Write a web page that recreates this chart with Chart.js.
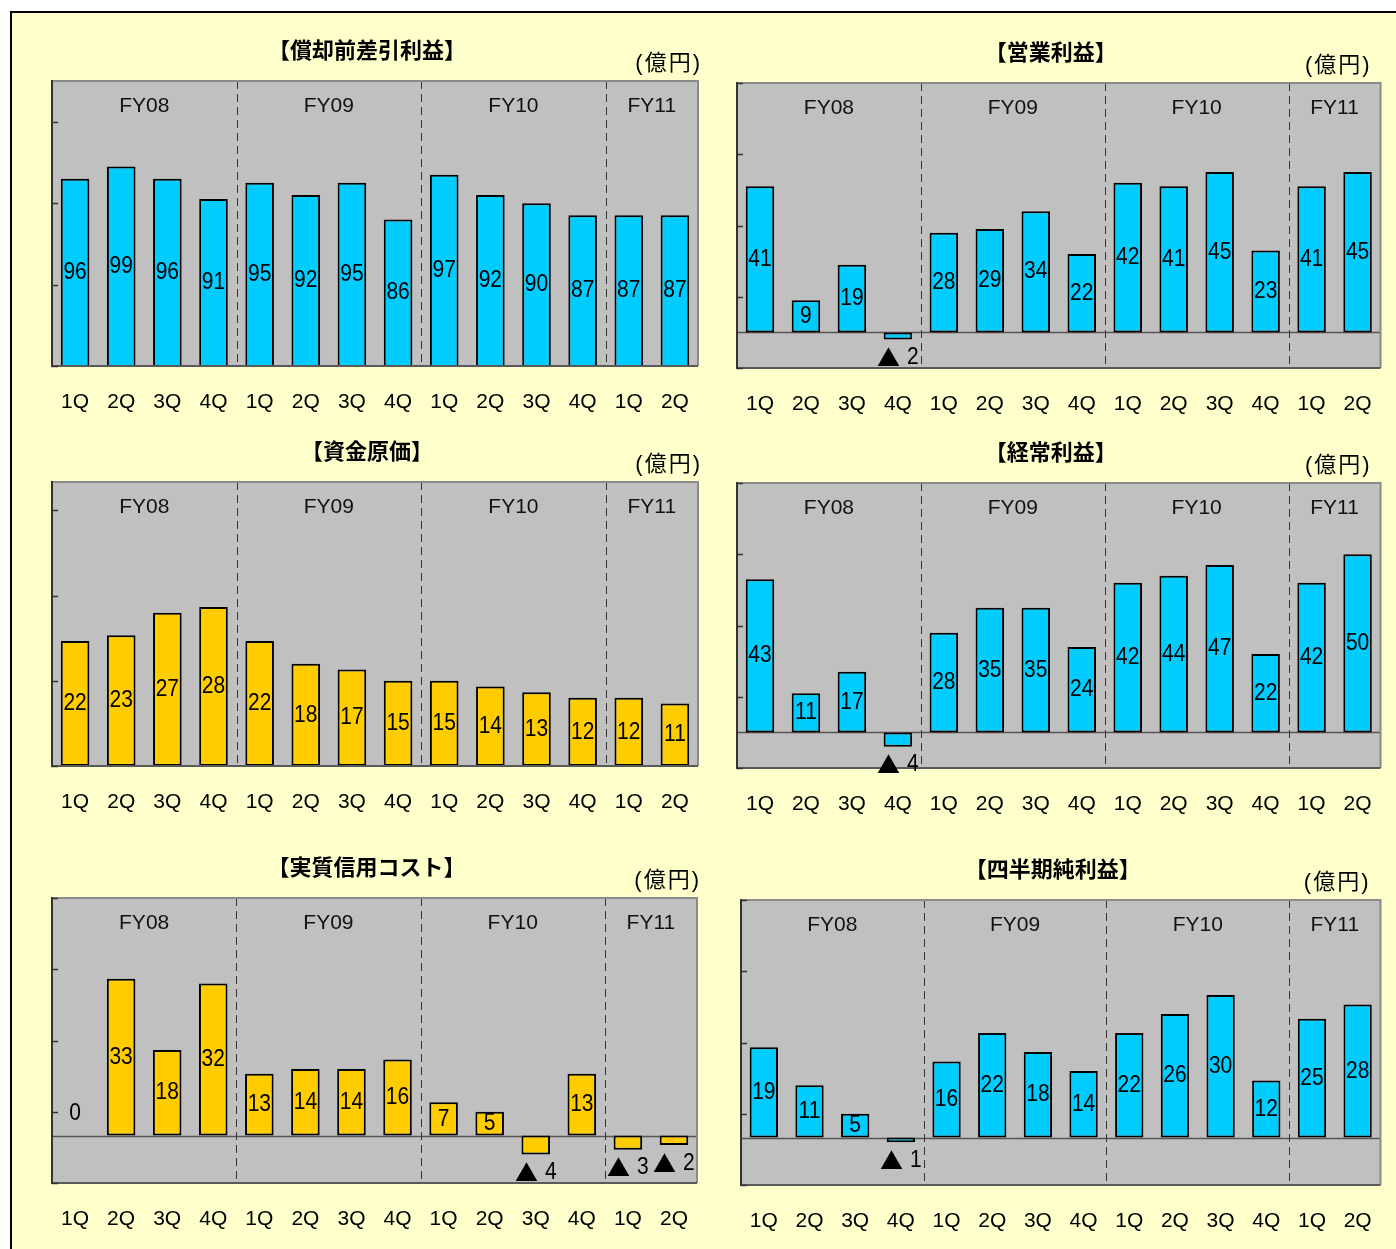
<!DOCTYPE html>
<html><head><meta charset="utf-8">
<script src="https://cdn.jsdelivr.net/npm/chart.js@4.4.0/dist/chart.umd.min.js"></script>
<style>
html,body{margin:0;padding:0;background:#fff;}
body{width:1396px;height:1249px;position:relative;overflow:hidden;}
#frame{position:absolute;left:10px;top:11px;width:1400px;height:1250px;border-left:2px solid #000;border-top:2px solid #000;background:#FFFFCC;}
canvas{position:absolute;}
</style></head><body>
<div id="frame"></div>
<canvas id="c1"></canvas><canvas id="c2"></canvas><canvas id="c3"></canvas>
<canvas id="c4"></canvas><canvas id="c5"></canvas><canvas id="c6"></canvas>
<script>
// ---- data ----
const quarters = ['1Q','2Q','3Q','4Q','1Q','2Q','3Q','4Q','1Q','2Q','3Q','4Q','1Q','2Q'];
const fiscalYears = ['FY08','FY09','FY10','FY11'];
const fyQuarterCounts = [4,4,4,2];
const unitLabel = '(億円)';

const titles = ['【償却前差引利益】','【営業利益】','【資金原価】','【経常利益】','【実質信用コスト】','【四半期純利益】'];

const preProvisionProfit = [96,99,96,91,95,92,95,86,97,92,90,87,87,87];
const operatingProfit    = [41,9,19,-2,28,29,34,22,42,41,45,23,41,45];
const fundingCost        = [22,23,27,28,22,18,17,15,15,14,13,12,12,11];
const ordinaryProfit     = [43,11,17,-4,28,35,35,24,42,44,47,22,42,50];
const creditCost         = [0,33,18,32,13,14,14,16,7,5,-4,13,-3,-2];
const netIncome          = [19,11,5,-1,16,22,18,14,22,26,30,12,25,28];

const ticksPre      = [50,70,90,110];
const ticksOper     = [-10,10,30,50,70];
const ticksFunding  = [0,15,30,45];
const ticksOrdinary = [-10,10,30,50,70];
const ticksCredit   = [-10,5,20,35,50];
const ticksNet      = [-10,5,20,35,50];

const BLUE = '#00CCFF', YELLOW = '#FFCC00';

// ---- layout (positions/styles) ----
const panels = [
  {id:'c1', title:titles[0], values:preProvisionProfit, color:BLUE,   min:50,  max:120, ticks:ticksPre,      canvas:[20,14,700,406],  plot:[52,81,698,366],   unitDx:2},
  {id:'c2', title:titles[1], values:operatingProfit,    color:BLUE,   min:-10, max:70,  ticks:ticksOper,     canvas:[720,14,676,406], plot:[737,83,1384,368], unitDx:-11},
  {id:'c3', title:titles[2], values:fundingCost,        color:YELLOW, min:0,   max:50,  ticks:ticksFunding,  canvas:[20,420,700,410], plot:[52,482,698,766],  unitDx:2},
  {id:'c4', title:titles[3], values:ordinaryProfit,     color:BLUE,   min:-10, max:70,  ticks:ticksOrdinary, canvas:[720,420,676,410],plot:[737,483,1384,768],unitDx:-11},
  {id:'c5', title:titles[4], values:creditCost,         color:YELLOW, min:-10, max:50,  ticks:ticksCredit,   canvas:[20,830,700,419], plot:[52,898,697,1183], unitDx:2},
  {id:'c6', title:titles[5], values:netIncome,          color:BLUE,   min:-10, max:50,  ticks:ticksNet,      canvas:[720,830,676,419],plot:[741,900,1386,1185],unitDx:-12},
];
const AXIS_H = 50;
const LATIN = "'Liberation Sans', 'DejaVu Sans', sans-serif";
const CJK = "'Noto Sans CJK JP', sans-serif";

const panelPlugin = {
  id: 'panel',
  beforeDatasetsDraw(chart, args, o) {
    const {ctx, chartArea:a} = chart;
    const xs = chart.scales.x, ys = chart.scales.y;
    ctx.save();
    ctx.fillStyle = '#C0C0C0';
    ctx.fillRect(a.left, a.top, a.right - a.left, a.bottom - a.top);
    if (ys.min < 0) {
      const zy = Math.round(ys.getPixelForValue(0)) + 0.5;
      ctx.strokeStyle = '#555'; ctx.lineWidth = 1.5;
      ctx.beginPath(); ctx.moveTo(a.left, zy); ctx.lineTo(a.right, zy); ctx.stroke();
    }
    let idx = 0;
    ctx.font = '21px ' + LATIN;
    ctx.fillStyle = '#111'; ctx.textAlign = 'center'; ctx.textBaseline = 'middle';
    fiscalYears.forEach((fy, k) => {
      const n = fyQuarterCounts[k];
      const cx = (xs.getPixelForValue(idx) + xs.getPixelForValue(idx + n - 1)) / 2;
      ctx.fillText(fy, cx, a.top + 25);
      if (k > 0) {
        const sx = Math.round((xs.getPixelForValue(idx - 1) + xs.getPixelForValue(idx)) / 2) + 0.5;
        ctx.strokeStyle = '#333'; ctx.lineWidth = 1; ctx.setLineDash([8, 5]);
        ctx.beginPath(); ctx.moveTo(sx, a.top); ctx.lineTo(sx, a.bottom); ctx.stroke();
        ctx.setLineDash([]);
      }
      idx += n;
    });
    ctx.fillStyle = '#000';
    ctx.font = 'bold 22px ' + CJK;
    ctx.fillText(o.title, (a.left + a.right) / 2 - 8, a.top - 31);
    ctx.font = "22px 'Liberation Sans', 'Noto Sans CJK JP'";
    ctx.textAlign = 'right';
    try { ctx.letterSpacing = '2px'; } catch(e) {}
    ctx.fillText(unitLabel, a.right + o.unitDx + 2, a.top - 17);
    try { ctx.letterSpacing = '0px'; } catch(e) {}
    ctx.restore();
  },
  afterDatasetsDraw(chart, args, o) {
    const {ctx, chartArea:a} = chart;
    const ys = chart.scales.y;
    ctx.save();
    ctx.lineWidth = 2;
    ctx.strokeStyle = '#8a8a8a';
    ctx.beginPath(); ctx.moveTo(a.left, a.top); ctx.lineTo(a.right, a.top); ctx.lineTo(a.right, a.bottom); ctx.stroke();
    ctx.strokeStyle = '#5a5a5a';
    ctx.beginPath(); ctx.moveTo(a.left, a.bottom); ctx.lineTo(a.right, a.bottom); ctx.stroke();
    ctx.strokeStyle = '#333';
    ctx.beginPath(); ctx.moveTo(a.left, a.top - 1); ctx.lineTo(a.left, a.bottom + 1); ctx.stroke();
    ctx.lineWidth = 1.5;
    o.ticks.forEach(v => {
      const ty = Math.round(ys.getPixelForValue(v)) + 0.5;
      ctx.beginPath(); ctx.moveTo(a.left, ty); ctx.lineTo(a.left + 6, ty); ctx.stroke();
    });
    const meta = chart.getDatasetMeta(0);
    const vals = chart.data.datasets[0].data;
    ctx.fillStyle = '#000'; ctx.textBaseline = 'middle';
    const numFont = '21px ' + LATIN, triFont = '23px ' + CJK;
    meta.data.forEach((bar, i) => {
      const v = vals[i];
      const base = Math.min(bar.base, a.bottom);
      if (v < 0) {
        const ly = Math.max(bar.y, base) + 18;
        const num = String(Math.abs(v));
        ctx.font = triFont; const wt = ctx.measureText('▲').width;
        ctx.font = numFont; const wn = ctx.measureText(num).width;
        const gap = 7, total = wt + gap + wn;
        let sx = bar.x - total / 2;
        ctx.textAlign = 'left';
        ctx.save(); ctx.translate(sx, ly); ctx.font = triFont; ctx.fillText('▲', 0, 0); ctx.restore();
        ctx.save(); ctx.translate(sx + wt + gap, ly); ctx.scale(1, 1.15); ctx.font = numFont; ctx.fillText(num, 0, 0); ctx.restore();
        return;
      }
      const ly = v > 0 ? (bar.y + base) / 2 : base - 22;
      ctx.textAlign = 'center'; ctx.font = numFont;
      ctx.save(); ctx.translate(bar.x, ly); ctx.scale(1, 1.15);
      ctx.fillText(String(v), 0, 0);
      ctx.restore();
    });
    ctx.restore();
  }
};

panels.forEach(p => {
  const cv = document.getElementById(p.id);
  const [cl, ct, cw, ch] = p.canvas;
  const [pl, pt, pr, pb] = p.plot;
  cv.width = cw; cv.height = ch;
  cv.style.left = cl + 'px'; cv.style.top = ct + 'px';
  cv.style.width = cw + 'px'; cv.style.height = ch + 'px';
  new Chart(cv, {
    type: 'bar',
    data: { labels: quarters, datasets: [{
      data: p.values, backgroundColor: p.color, borderColor: '#000',
      borderWidth: 2, borderSkipped: false, barPercentage: 0.62, categoryPercentage: 1
    }]},
    options: {
      responsive: false, animation: false, devicePixelRatio: 1,
      layout: { padding: { left: pl - cl, right: (cl + cw) - pr, top: pt - ct, bottom: (ct + ch) - pb - AXIS_H } },
      plugins: { legend: {display:false}, tooltip: {enabled:false}, title:{display:false},
        panel: { title: p.title, unitDx: p.unitDx, ticks: p.ticks } },
      scales: {
        x: { offset: true, grid: {display:false, drawTicks:false}, border: {display:false},
             ticks: { color:'#000', font:{family:"'Liberation Sans'", size:21}, padding:24, maxRotation:0, autoSkip:false },
             afterFit(s) { s.height = AXIS_H; } },
        y: { display: false, min: p.min, max: p.max }
      }
    },
    plugins: [panelPlugin]
  });
});
</script>
</body></html>
